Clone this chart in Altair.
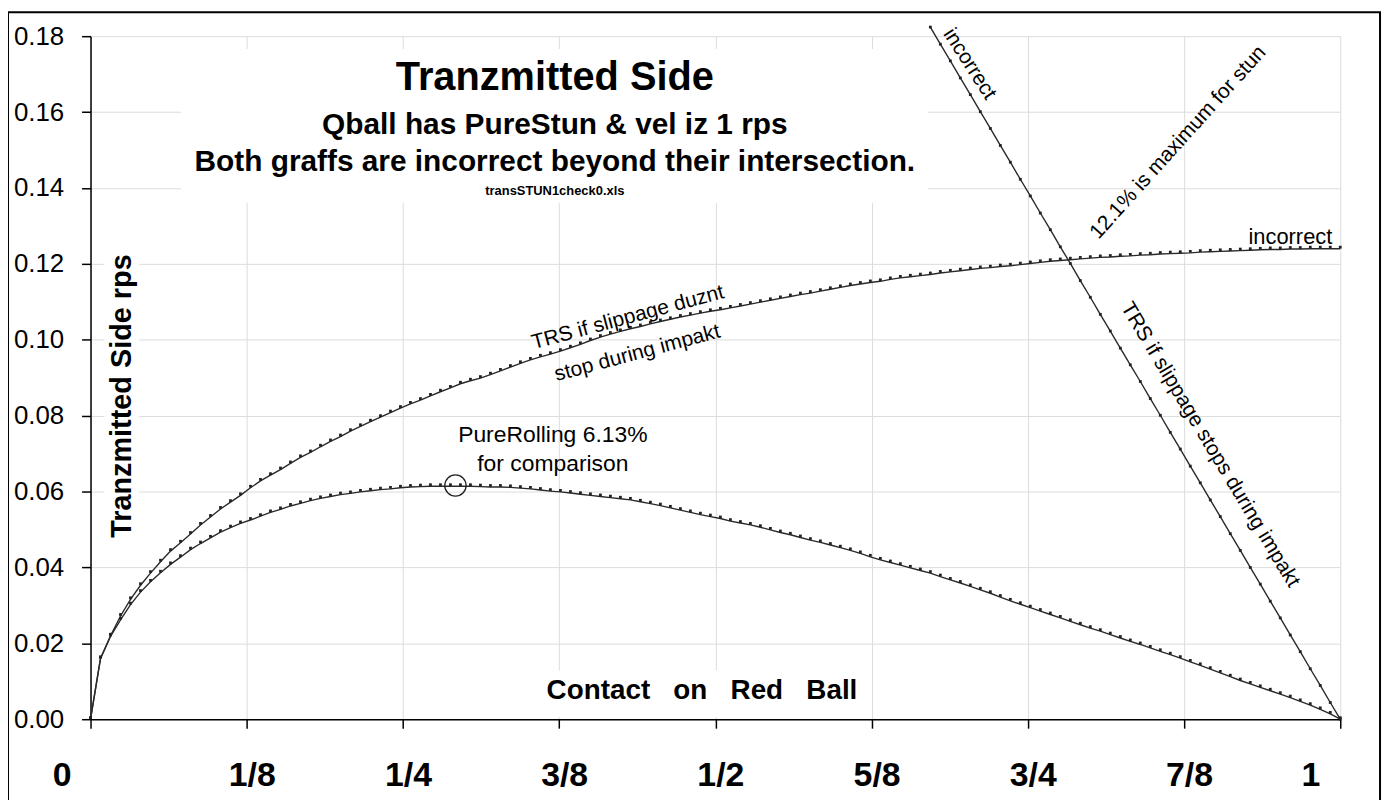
import altair as alt
import pandas as pd

# ---------------- data ----------------
x_vals = [
    0.000, 0.008, 0.016, 0.024, 0.032, 0.040, 0.048, 0.056, 0.064, 0.072,
    0.080, 0.088, 0.096, 0.104, 0.112, 0.120, 0.128, 0.136, 0.144, 0.152,
    0.160, 0.168, 0.176, 0.184, 0.192, 0.200, 0.208, 0.216, 0.224, 0.232,
    0.240, 0.248, 0.256, 0.264, 0.272, 0.280, 0.288, 0.296, 0.304, 0.312,
    0.320, 0.328, 0.336, 0.344, 0.352, 0.360, 0.368, 0.376, 0.384, 0.392,
    0.400, 0.408, 0.416, 0.424, 0.432, 0.440, 0.448, 0.456, 0.464, 0.472,
    0.480, 0.488, 0.496, 0.504, 0.512, 0.520, 0.528, 0.536, 0.544, 0.552,
    0.560, 0.568, 0.576, 0.584, 0.592, 0.600, 0.608, 0.616, 0.624, 0.632,
    0.640, 0.648, 0.656, 0.664, 0.672, 0.680, 0.688, 0.696, 0.704, 0.712,
    0.720, 0.728, 0.736, 0.744, 0.752, 0.760, 0.768, 0.776, 0.784, 0.792,
    0.800, 0.808, 0.816, 0.824, 0.832, 0.840, 0.848, 0.856, 0.864, 0.872,
    0.880, 0.888, 0.896, 0.904, 0.912, 0.920, 0.928, 0.936, 0.944, 0.952,
    0.960, 0.968, 0.976, 0.984, 0.992, 1.000,
]

# TRS if slippage duznt stop during impakt
trs_no_stop = [
    0.0000, 0.0160, 0.0220, 0.0272, 0.0316, 0.0353, 0.0385, 0.0415, 0.0443, 0.0465,
    0.0488, 0.0512, 0.0533, 0.0554, 0.0572, 0.0590, 0.0610, 0.0628, 0.0643, 0.0658,
    0.0674, 0.0690, 0.0703, 0.0718, 0.0732, 0.0745, 0.0759, 0.0772, 0.0784, 0.0796,
    0.0808, 0.0820, 0.0831, 0.0841, 0.0852, 0.0863, 0.0873, 0.0884, 0.0892, 0.0899,
    0.0908, 0.0918, 0.0928, 0.0938, 0.0947, 0.0955, 0.0962, 0.0970, 0.0979, 0.0988,
    0.0998, 0.1007, 0.1015, 0.1022, 0.1029, 0.1035, 0.1042, 0.1048, 0.1054, 0.1060,
    0.1065, 0.1070, 0.1075, 0.1079, 0.1084, 0.1089, 0.1094, 0.1099, 0.1104, 0.1109,
    0.1114, 0.1119, 0.1123, 0.1128, 0.1133, 0.1138, 0.1143, 0.1147, 0.1151, 0.1154,
    0.1159, 0.1163, 0.1166, 0.1169, 0.1172, 0.1176, 0.1179, 0.1182, 0.1185, 0.1188,
    0.1190, 0.1193, 0.1195, 0.1198, 0.1201, 0.1204, 0.1207, 0.1209, 0.1211, 0.1213,
    0.1215, 0.1217, 0.1218, 0.1220, 0.1221, 0.1223, 0.1224, 0.1226, 0.1227, 0.1228,
    0.1229, 0.1231, 0.1232, 0.1233, 0.1234, 0.1235, 0.1236, 0.1237, 0.1238, 0.1238,
    0.1239, 0.1239, 0.1240, 0.1240, 0.1240, 0.1240,
]

# PureRolling for comparison
pure_rolling = [
    0.0000, 0.0160, 0.0218, 0.0262, 0.0302, 0.0335, 0.0362, 0.0386, 0.0408, 0.0427,
    0.0447, 0.0463, 0.0478, 0.0493, 0.0505, 0.0516, 0.0525, 0.0535, 0.0545, 0.0553,
    0.0562, 0.0569, 0.0576, 0.0582, 0.0587, 0.0592, 0.0595, 0.0599, 0.0602, 0.0605,
    0.0607, 0.0610, 0.0612, 0.0613, 0.0614, 0.0614, 0.0614, 0.0614, 0.0614, 0.0613,
    0.0612, 0.0612, 0.0611, 0.0609, 0.0607, 0.0604, 0.0601, 0.0599, 0.0596, 0.0593,
    0.0590, 0.0587, 0.0584, 0.0581, 0.0578, 0.0573, 0.0568, 0.0563, 0.0557, 0.0551,
    0.0545, 0.0539, 0.0534, 0.0529, 0.0522, 0.0517, 0.0512, 0.0506, 0.0499, 0.0492,
    0.0486, 0.0479, 0.0472, 0.0466, 0.0459, 0.0452, 0.0445, 0.0437, 0.0428, 0.0420,
    0.0413, 0.0406, 0.0399, 0.0392, 0.0385, 0.0376, 0.0367, 0.0359, 0.0350, 0.0341,
    0.0332, 0.0322, 0.0312, 0.0303, 0.0294, 0.0285, 0.0276, 0.0267, 0.0258, 0.0249,
    0.0240, 0.0232, 0.0223, 0.0214, 0.0205, 0.0197, 0.0188, 0.0179, 0.0170, 0.0161,
    0.0151, 0.0142, 0.0132, 0.0122, 0.0112, 0.0102, 0.0093, 0.0084, 0.0075, 0.0066,
    0.0057, 0.0047, 0.0037, 0.0026, 0.0014, 0.0000,
]

# TRS if slippage stops during impakt (starts at x = 0.672)
trs_stop_x = x_vals[84:]
trs_stop = [
    0.1824, 0.1779, 0.1735, 0.1690, 0.1646, 0.1601, 0.1557, 0.1512, 0.1468, 0.1423,
    0.1379, 0.1334, 0.1290, 0.1245, 0.1201, 0.1156, 0.1112, 0.1067, 0.1023, 0.0978,
    0.0934, 0.0890, 0.0845, 0.0801, 0.0756, 0.0712, 0.0667, 0.0623, 0.0578, 0.0534,
    0.0489, 0.0445, 0.0400, 0.0356, 0.0311, 0.0267, 0.0222, 0.0178, 0.0133, 0.0089,
    0.0044, 0.0000,
]

peak_x = [0.292]
peak_y = [0.0616]

x_tick_values = [0, 0.125, 0.25, 0.375, 0.5, 0.625, 0.75, 0.875, 1]
x_tick_labels = ["0", "1/8", "1/4", "3/8", "1/2", "5/8", "3/4", "7/8", "1"]
y_tick_values = [0, 0.02, 0.04, 0.06, 0.08, 0.10, 0.12, 0.14, 0.16, 0.18]

# ---------------- tables ----------------
df_a = pd.DataFrame({"x": x_vals, "y": trs_no_stop})
df_b = pd.DataFrame({"x": x_vals, "y": pure_rolling})
df_c = pd.DataFrame({"x": trs_stop_x, "y": trs_stop})
df_peak = pd.DataFrame({"x": peak_x, "y": peak_y})
one = pd.DataFrame({"k": [1]})

FONT = "Liberation Sans"
LINE = "#2a2a2a"
DOT = "#222222"
NB = "\u00a0"

label_expr = "[" + ",".join("'%s'" % s for s in x_tick_labels) + "][round(datum.value*8)]"

x_enc = alt.X(
    "x:Q",
    scale=alt.Scale(domain=[0, 1], nice=False, zero=False),
    axis=alt.Axis(
        title=None,
        values=x_tick_values,
        labelExpr=label_expr,
        labelFont=FONT,
        labelFontSize=34,
        labelFontWeight="bold",
        labelColor="black",
        labelBaseline="alphabetic",
        labelPadding=58,
        labelFlush=False,
        labelOverlap=False,
        labelOffset={
            "condition": [
                {"test": "datum.value == 0", "value": -29},
                {"test": "datum.value == 1", "value": -30},
            ],
            "value": 5,
        },
        tickSize=9,
        tickColor="black",
        tickWidth=1.5,
        domainColor="black",
        domainWidth=1.5,
        grid=True,
        gridColor="#dcdcdc",
        gridWidth=1,
    ),
)
y_enc = alt.Y(
    "y:Q",
    scale=alt.Scale(domain=[0, 0.18], nice=False, zero=True),
    axis=alt.Axis(
        title=None,
        values=y_tick_values,
        format=".2f",
        labelFont=FONT,
        labelFontSize=26,
        labelColor="black",
        labelPadding=18,
        tickSize=9,
        tickColor="black",
        tickWidth=1.5,
        domainColor="black",
        domainWidth=1.5,
        grid=True,
        gridColor="#dcdcdc",
        gridWidth=1,
    ),
)


def box(x1, x2, y1, y2, fill="white", stroke=None, sw=0):
    kw = dict(fill=fill)
    if stroke:
        kw.update(stroke=stroke, strokeWidth=sw)
    return alt.Chart(one).mark_rect(**kw).encode(
        x=alt.value(x1), x2=alt.value(x2), y=alt.value(y1), y2=alt.value(y2)
    )


def label(text, x, y, size, weight="normal", angle=0, align="center", baseline="alphabetic", line_height=None):
    kw = dict(text=text, font=FONT, fontSize=size, fontWeight=weight, color="black",
              align=align, baseline=baseline, angle=angle)
    if line_height:
        kw["lineHeight"] = line_height
    return alt.Chart(one).mark_text(**kw).encode(x=alt.value(x), y=alt.value(y))


frame = box(-83, 1297, -24, 780, fill="transparent", stroke="black", sw=2)
title_box = box(91, 842, 13, 168)
ytitle_box = box(14, 49, 211, 511)
xtitle_box = box(439, 779, 638, 685)

line_a = alt.Chart(df_a).mark_line(color=LINE, strokeWidth=1.4).encode(x=x_enc, y=y_enc)
line_b = alt.Chart(df_b).mark_line(color=LINE, strokeWidth=1.4).encode(x="x:Q", y="y:Q")
line_c = alt.Chart(df_c).mark_line(color=LINE, strokeWidth=1.4).encode(x="x:Q", y="y:Q")

dots_a = alt.Chart(df_a).mark_square(color=DOT, size=8, opacity=1, yOffset=-1.5).encode(x="x:Q", y="y:Q")
dots_b = alt.Chart(df_b).mark_square(color=DOT, size=8, opacity=1, yOffset=-1.5).encode(x="x:Q", y="y:Q")
dots_c = alt.Chart(df_c).mark_square(color=DOT, size=8, opacity=1).encode(x="x:Q", y="y:Q")

peak = alt.Chart(df_peak).mark_point(shape="circle", filled=False, size=460, color="#222222",
                                     strokeWidth=1.3, opacity=1).encode(x="x:Q", y="y:Q")

contact = NB.join(["Contact", "", "", "on", "", "", "Red", "", "", "Ball"])

texts = [
    label("Tranzmitted Side", 467, 54, 40, "bold"),
    label("Qball has PureStun & vel iz 1 rps", 467, 98, 30, "bold"),
    label("Both graffs are incorrect beyond their intersection.", 467, 136, 30, "bold"),
    label("transSTUN1check0.xls", 467, 160, 13, "bold"),
    label("Tranzmitted Side rps", 41, 362, 29, "bold", angle=270),
    label(contact, 615, 667, 28, "bold"),
    label(["PureRolling 6.13%", "for comparison"], 465, 408, 23, line_height=29),
    label(["TRS if slippage duznt", "stop during impakt"], 542, 289, 21, angle=345, line_height=37),
    label("incorrect", 884, 28, 21, angle=57, baseline="middle"),
    label("12.1% is maximum for stun", 1094, 107, 21, angle=312, baseline="middle"),
    label("incorrect", 1249, 209, 22, align="right"),
    label("TRS if slippage stops during impakt", 1126, 411, 21, angle=59, baseline="middle"),
]

chart = alt.layer(
    line_a, frame, title_box, ytitle_box, xtitle_box,
    line_b, line_c, dots_a, dots_b, dots_c, peak, *texts
).properties(
    width=1257,
    height=687,
    autosize=alt.AutoSizeParams(type="none"),
    padding={"left": 83, "top": 26, "right": 45, "bottom": 95},
    background="white",
).configure_view(stroke=None)

chart.save("out.html", embed_options={"renderer": "svg", "actions": False})
